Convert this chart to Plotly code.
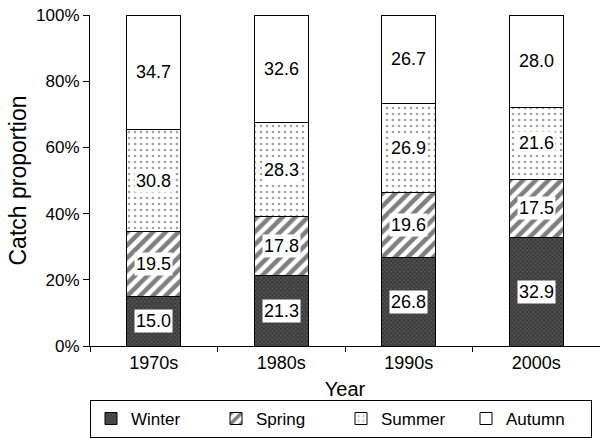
import plotly.graph_objects as go

categories = ["1970s", "1980s", "1990s", "2000s"]
winter = [15.0, 21.3, 26.8, 32.9]
spring = [19.5, 17.8, 19.6, 17.5]
summer = [30.8, 28.3, 26.9, 21.6]
autumn = [34.7, 32.6, 26.7, 28.0]
y_ticks = [0, 20, 40, 60, 80, 100]
y_tick_labels = ["0%", "20%", "40%", "60%", "80%", "100%"]

series = [
    ("Winter", winter, dict(fgcolor="#111111", bgcolor="#555555", shape="x", size=3, solidity=0.5), True),
    ("Spring", spring, dict(fgcolor="black", bgcolor="white", shape="/", size=9, solidity=0.5), True),
    ("Summer", summer, dict(fgcolor="#444444", bgcolor="white", shape=".", size=6, solidity=0.15), True),
    ("Autumn", autumn, None, False),
]

fig = go.Figure()
for name, vals, pat, boxed in series:
    marker = dict(color="white", line=dict(color="black", width=1))
    if pat:
        marker["pattern"] = pat
    fig.add_trace(go.Bar(x=categories, y=vals, name=name, marker=marker, width=0.42))

# labels
cum = [0.0] * len(categories)
for name, vals, pat, boxed in series:
    for i, c in enumerate(categories):
        center = cum[i] + vals[i] / 2
        fig.add_annotation(x=c, y=center, text=f"{vals[i]:.1f}", showarrow=False,
                           font=dict(size=18, color="black"),
                           bgcolor="white" if boxed else "rgba(0,0,0,0)", borderpad=1)
        cum[i] += vals[i]

fig.update_layout(
    barmode="stack",
    width=600, height=439,
    margin=dict(l=90, r=0, t=15, b=93, autoexpand=False),
    paper_bgcolor="white", plot_bgcolor="white",
    font=dict(family="Liberation Sans, Arial, sans-serif", color="black", size=17),
    showlegend=True,
    legend=dict(orientation="h", x=0.0, xanchor="left", y=-0.163, yanchor="top",
                bordercolor="black", borderwidth=1, entrywidth=80, entrywidthmode="pixels",
                font=dict(size=17), traceorder="normal", itemwidth=30),
    bargap=0.58,
)
fig.update_xaxes(showline=True, linecolor="black", linewidth=1, ticks="outside", tickson="boundaries",
                 ticklen=5, tickcolor="black", showgrid=False, range=[-0.5, 3.5],
                 title=dict(text="Year", font=dict(size=20), standoff=10), tickfont=dict(size=18))
fig.update_yaxes(showline=True, linecolor="black", linewidth=1, ticks="outside", ticklen=6,
                 tickcolor="black", showgrid=False, range=[0, 100], tickmode="array",
                 tickvals=y_ticks, ticktext=y_tick_labels, tickfont=dict(size=17),
                 title=dict(text="Catch proportion", font=dict(size=23), standoff=3))

fig.write_html("out.html", config={"displayModeBar": False},
               post_script="document.body.style.margin='0';")
